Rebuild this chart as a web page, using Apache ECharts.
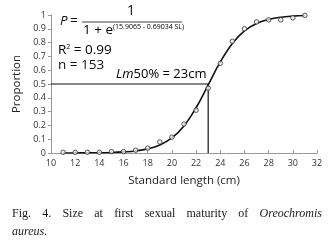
<!DOCTYPE html>
<html>
<head>
<meta charset="utf-8">
<title>Size at first sexual maturity</title>
<script src="https://cdn.jsdelivr.net/npm/echarts@6/dist/echarts.min.js"></script>
<style>
	html, body { margin: 0; padding: 0; background: #fff; }
	#main { width: 333px; height: 250px; }
</style>
</head>
<body>
	<div id="main"></div>
<script type="text/javascript">
	// observed proportions (open circles)
	var obsLength = [11, 12, 13, 14, 15, 16, 17, 18, 19, 20, 21, 22, 23, 24, 25, 26, 27, 28, 29, 30, 31];
	var obsProp = [0.005, 0.005, 0.005, 0.005, 0.01, 0.01, 0.02, 0.035, 0.08, 0.115, 0.21, 0.31, 0.47, 0.65, 0.81, 0.9, 0.95, 0.965, 0.965, 0.98, 0.997];
	// fitted curve
	var fitLength = [11, 12, 13, 14, 15, 16, 17, 18, 19, 20, 21, 22, 23, 24, 25, 26, 27, 28, 29, 30, 31];
	var fitProp = [0.0003, 0.0005, 0.001, 0.002, 0.004, 0.008, 0.015, 0.03, 0.058, 0.109, 0.196, 0.328, 0.493, 0.66, 0.794, 0.885, 0.939, 0.968, 0.984, 0.992, 0.996];
	// Lm50% reference
	var lm50 = 23;
	var p50 = 0.5;
	var xMin = 10;
	var captionWords = ['Fig.', '4.', 'Size', 'at', 'first', 'sexual', 'maturity', 'of', 'Oreochromis'];

	var sans = '"Open Sans", "Noto Sans", sans-serif';
	var serif = '"Liberation Serif", "DejaVu Serif", serif';

	var pairs = function(xs, ys) {
		var out = [];
		for (var i = 0; i < xs.length; i++) {
			out.push([xs[i], ys[i]]);
		}
		return out;
	};

	// justify first caption line across 12..322
	var ctx = document.createElement('canvas').getContext('2d');
	var captionGraphics = [];
	var widths = [];
	var total = 0;
	for (var i = 0; i < captionWords.length; i++) {
		var italic = captionWords[i] === 'Oreochromis';
		ctx.font = (italic ? 'italic ' : '') + '12px ' + serif;
		var w = ctx.measureText(captionWords[i]).width;
		widths.push(w);
		total += w;
	}
	var gap = (322 - 12 - total) / (captionWords.length - 1);
	var cx = 12;
	for (var i = 0; i < captionWords.length; i++) {
		captionGraphics.push({
			type: 'text', left: cx, top: 208,
			style: {
				text: captionWords[i], fill: '#1a1a1a',
				font: (captionWords[i] === 'Oreochromis' ? 'italic ' : '') + '12px ' + serif
			}
		});
		cx += widths[i] + gap;
	}
	captionGraphics.push({
		type: 'text', left: 12, top: 226,
		style: { text: 'aureus.', fill: '#1a1a1a', font: 'italic 12px ' + serif }
	});

	var chart = echarts.init(document.getElementById('main'), null, { renderer: 'canvas' });
	var option = {
		animation: false,
		grid: { left: 51, right: 16, top: 15, bottom: 97 },
		xAxis: {
			type: 'value', min: 10, max: 32, interval: 2,
			name: 'Standard length (cm)', nameLocation: 'middle', nameGap: 22,
			nameTextStyle: { fontFamily: sans, fontSize: 11.5, color: '#222' },
			axisLine: { lineStyle: { color: '#999', width: 1 } },
			axisTick: { inside: true, length: 3, lineStyle: { color: '#999' } },
			axisLabel: { fontFamily: sans, fontSize: 9, color: '#333', margin: 6 },
			splitLine: { show: false }
		},
		yAxis: {
			type: 'value', min: 0, max: 1, interval: 0.1,
			name: 'Proportion', nameLocation: 'middle', nameGap: 23,
			nameTextStyle: { fontFamily: sans, fontSize: 11.5, color: '#222' },
			axisLine: { show: true, lineStyle: { color: '#999', width: 1 } },
			axisTick: { show: true, length: 3, lineStyle: { color: '#999' } },
			axisLabel: {
				fontFamily: sans, fontSize: 9, color: '#333', margin: 5,
				formatter: function(v) {
					return (v === 0 || v === 1) ? String(v) : v.toFixed(1);
				}
			},
			splitLine: { show: false }
		},
		series: [{
			// Lm50% guide lines
			type: 'line',
			data: [[xMin, p50], [lm50, p50], [lm50, 0]],
			symbol: 'none',
			lineStyle: { color: '#111', width: 1.2 },
			z: 2
		}, {
			type: 'line',
			data: pairs(fitLength, fitProp),
			smooth: 0.4,
			symbol: 'none',
			lineStyle: { color: '#111', width: 1.6 },
			z: 3
		}, {
			type: 'scatter',
			data: pairs(obsLength, obsProp),
			symbol: 'circle',
			symbolSize: 4.5,
			itemStyle: { color: '#eee', borderColor: '#333', borderWidth: 1 },
			z: 4
		}],
		graphic: [{
			type: 'text', left: 60, top: 14,
			style: { text: 'P', fill: '#111', font: 'italic 13.5px ' + sans }
		}, {
			type: 'text', left: 70, top: 14,
			style: { text: '=', fill: '#111', font: '13.5px ' + sans }
		}, {
			type: 'text', left: 127, top: 4,
			style: { text: '1', fill: '#111', font: '14px ' + sans }
		}, {
			type: 'line',
			shape: { x1: 82, y1: 22, x2: 182, y2: 22 },
			style: { stroke: '#111', lineWidth: 0.8 }
		}, {
			type: 'text', left: 83, top: 23,
			style: {
				text: '{b|1 + e}{s|(15.9065 - 0.69034 SL)}',
				rich: {
					b: { fontFamily: sans, fontSize: 13.5, color: '#111', verticalAlign: 'bottom' },
					s: { fontFamily: sans, fontSize: 7, color: '#111', verticalAlign: 'top', padding: [0, 0, 6, 0] }
				}
			}
		}, {
			type: 'text', left: 58, top: 43,
			style: {
				text: '{b|R}{s|2}{b| = 0.99}',
				rich: {
					b: { fontFamily: sans, fontSize: 13.5, color: '#111' },
					s: { fontFamily: sans, fontSize: 7, color: '#111', padding: [0, 0, 7, 0] }
				}
			}
		}, {
			type: 'text', left: 58, top: 58,
			style: { text: 'n = 153', fill: '#111', font: '13.5px ' + sans }
		}, {
			type: 'text', left: 116, top: 68,
			style: {
				text: '{i|Lm}{b|50% = 23cm}',
				rich: {
					i: { fontFamily: sans, fontSize: 13, fontStyle: 'italic', color: '#111' },
					b: { fontFamily: sans, fontSize: 13, color: '#111' }
				}
			}
		}].concat(captionGraphics)
	};
	chart.setOption(option);
</script>
</body>
</html>
